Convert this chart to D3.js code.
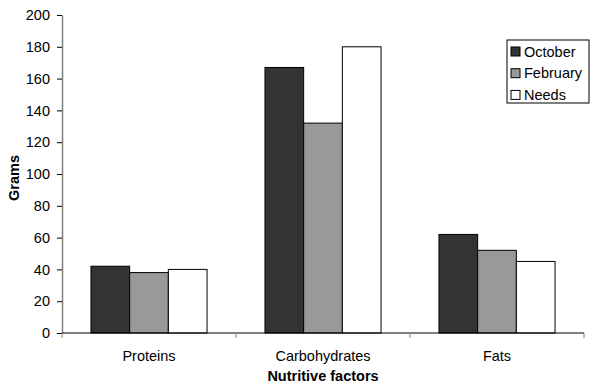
<!DOCTYPE html>
<html>
<head>
<meta charset="utf-8">
<script src="https://cdn.jsdelivr.net/npm/d3@7"></script>
<style>
  body { margin: 0; background: #fff; }
  text { font-family: "Liberation Sans", Arial, sans-serif; }
</style>
</head>
<body>
<div id="chart"></div>
<script>
// data
const categories = ["Proteins", "Carbohydrates", "Fats"];
const seriesNames = ["October", "February", "Needs"];
const october = [42, 167, 62];
const february = [38, 132, 52];
const needs = [40, 180, 45];
const yTicks = [0, 20, 40, 60, 80, 100, 120, 140, 160, 180, 200];

const seriesValues = [october, february, needs];
const fills = ["#333333", "#999999", "#ffffff"];
const fontSize = 14.5;

const width = 606;
const height = 386;
const margin = { top: 15, right: 22, bottom: 53, left: 62 };

const svg = d3.select("#chart")
    .append("svg")
    .attr("width", width)
    .attr("height", height);

const x = d3.scaleBand()
    .domain(categories)
    .range([margin.left, width - margin.right])
    .paddingInner(0.333)
    .paddingOuter(0.1665);

const xSub = d3.scaleBand()
    .domain(seriesNames)
    .range([0, x.bandwidth()]);

const y = d3.scaleLinear()
    .domain([0, 200])
    .range([height - margin.bottom, margin.top]);

// bars
const groups = svg.selectAll("g.group")
    .data(categories)
    .join("g")
    .attr("class", "group")
    .attr("transform", d => `translate(${x(d)},0)`);

groups.selectAll("rect")
    .data((d, i) => seriesNames.map((s, j) => ({ series: s, value: seriesValues[j][i], fill: fills[j] })))
    .join("rect")
    .attr("x", d => xSub(d.series))
    .attr("y", d => y(d.value))
    .attr("width", xSub.bandwidth())
    .attr("height", d => y(0) - y(d.value))
    .attr("fill", d => d.fill)
    .attr("stroke", "#000")
    .attr("stroke-width", 1);

// y axis
const yAxis = svg.append("g")
    .attr("transform", `translate(${margin.left},0)`)
    .call(d3.axisLeft(y).tickValues(yTicks).tickSize(5).tickPadding(7).tickSizeOuter(0));
yAxis.select(".domain").attr("stroke", "#808080").attr("stroke-width", 1.5);
yAxis.selectAll(".tick line").attr("stroke", "#000");
yAxis.selectAll(".tick text").attr("font-size", fontSize).attr("fill", "#000")
    .style("font-family", "'Liberation Sans', Arial, sans-serif");

// x axis: ticks between categories
const xAxisY = y(0);
const step = x.step();
const xEdges = d3.range(categories.length + 1).map(i => margin.left + i * step);
svg.append("line")
    .attr("x1", margin.left).attr("x2", width - margin.right)
    .attr("y1", xAxisY).attr("y2", xAxisY)
    .attr("stroke", "#000").attr("stroke-width", 1);
svg.selectAll("line.xtick")
    .data(xEdges)
    .join("line")
    .attr("class", "xtick")
    .attr("x1", d => d).attr("x2", d => d)
    .attr("y1", xAxisY).attr("y2", xAxisY + 5)
    .attr("stroke", "#808080");

svg.selectAll("text.xlab")
    .data(categories)
    .join("text")
    .attr("class", "xlab")
    .attr("x", d => x(d) + x.bandwidth() / 2)
    .attr("y", xAxisY + 28)
    .attr("text-anchor", "middle")
    .attr("font-size", fontSize)
    .text(d => d);

// axis titles
svg.append("text")
    .attr("x", (margin.left + width - margin.right) / 2)
    .attr("y", height - 5)
    .attr("text-anchor", "middle")
    .attr("font-size", fontSize)
    .attr("font-weight", "bold")
    .text("Nutritive factors");

svg.append("text")
    .attr("transform", `translate(18.5,178) rotate(-90)`)
    .attr("text-anchor", "middle")
    .attr("font-size", fontSize)
    .attr("font-weight", "bold")
    .text("Grams");

// legend
const legend = svg.append("g").attr("transform", "translate(507,40)");
legend.append("rect")
    .attr("width", 82).attr("height", 63)
    .attr("fill", "#fff").attr("stroke", "#000");
const items = legend.selectAll("g.item")
    .data(seriesNames)
    .join("g")
    .attr("class", "item")
    .attr("transform", (d, i) => `translate(4,${11.5 + i * 21.7})`);
items.append("rect")
    .attr("x", 0).attr("y", -4.5)
    .attr("width", 9).attr("height", 9)
    .attr("fill", (d, i) => fills[i])
    .attr("stroke", "#000");
items.append("text")
    .attr("x", 13).attr("y", 0)
    .attr("dy", "0.35em")
    .attr("font-size", fontSize)
    .text(d => d);
</script>
</body>
</html>
